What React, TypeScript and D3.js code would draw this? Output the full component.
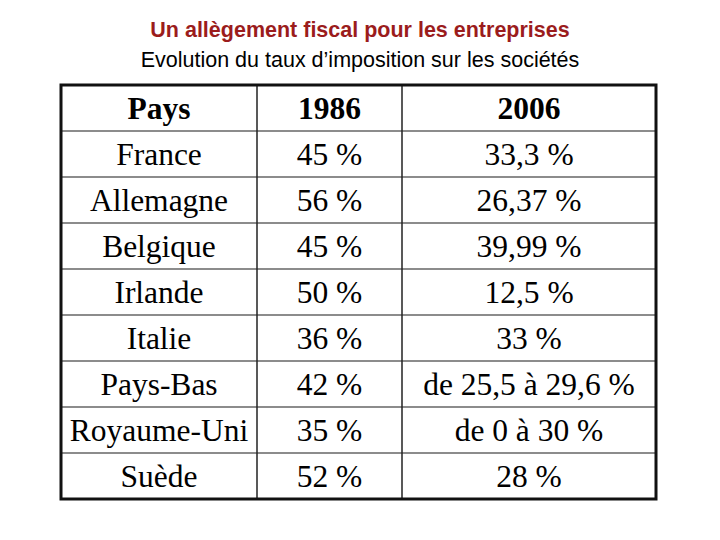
import React from "react";
import * as d3 from "d3";

const title = "Un allègement fiscal pour les entreprises";
const subtitle = "Evolution du taux d’imposition sur les sociétés";
const headers = ["Pays", "1986", "2006"];
const countries = ["France", "Allemagne", "Belgique", "Irlande", "Italie", "Pays-Bas", "Royaume-Uni", "Suède"];
const rates1986 = ["45 %", "56 %", "45 %", "50 %", "36 %", "42 %", "35 %", "52 %"];
const rates2006 = ["33,3 %", "26,37 %", "39,99 %", "12,5 %", "33 %", "de 25,5 à 29,6 %", "de 0 à 30 %", "28 %"];

export default function App() {
  const W = 720, H = 540;
  const left = 61, right = 656, top = 85, bottom = 499;
  const colEdges = [left, 257, 402, right];
  const nRows = countries.length + 1;
  const y = d3.scaleBand<number>().domain(d3.range(nRows)).range([top, bottom]).padding(0);
  const rows = [headers, ...countries.map((c, i) => [c, rates1986[i], rates2006[i]])];
  const serif = "'Liberation Serif', 'Times New Roman', serif";
  return (
    <svg width={W} height={H} style={{ position: "absolute", left: 0, top: 0 }}>
      <rect width={W} height={H} fill="#fff" />
      <text x={360} y={37} textAnchor="middle" fontFamily="'Liberation Sans', Arial, sans-serif" fontWeight="bold" fontSize={21.5} fill="#9b1c1c">{title}</text>
      <text x={360} y={67} textAnchor="middle" fontFamily="'Liberation Sans', Arial, sans-serif" fontSize={21.5} fill="#000">{subtitle}</text>
      {d3.range(1, nRows).map((r) => (
        <line key={"h" + r} x1={left} x2={right} y1={y(r)!} y2={y(r)!} stroke="#666" strokeWidth={1.5} />
      ))}
      {[1, 2].map((c) => (
        <line key={"v" + c} x1={colEdges[c]} x2={colEdges[c]} y1={top} y2={bottom} stroke="#222" strokeWidth={1.5} />
      ))}
      <rect x={left} y={top} width={right - left} height={bottom - top} fill="none" stroke="#111" strokeWidth={3} />
      {rows.map((row, r) =>
        row.map((cell, c) => (
          <text
            key={r + "-" + c}
            x={(colEdges[c] + colEdges[c + 1]) / 2}
            y={y(r)! + y.bandwidth() / 2 + 11}
            textAnchor="middle"
            fontFamily={serif}
            fontWeight={r === 0 ? "bold" : "normal"}
            fontSize={31.5}
            fill="#000"
          >
            {cell}
          </text>
        ))
      )}
    </svg>
  );
}
